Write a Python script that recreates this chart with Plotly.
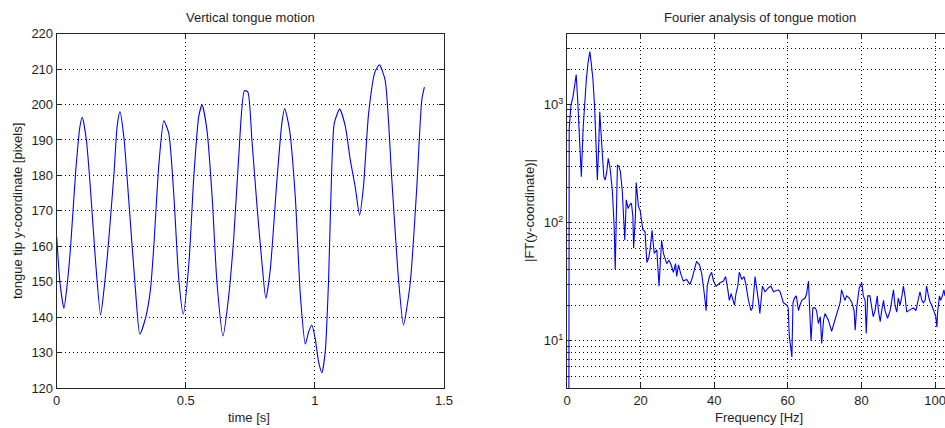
import plotly.graph_objects as go

# Vertical position of the tongue tip over time
time_s = [0.000, 0.013, 0.028, 0.041, 0.054, 0.073, 0.090, 0.099, 0.115, 0.131,
          0.151, 0.170, 0.183, 0.196, 0.222, 0.234, 0.245, 0.260, 0.280, 0.305,
          0.322, 0.344, 0.363, 0.376, 0.396, 0.415, 0.434, 0.454, 0.473, 0.490,
          0.512, 0.531, 0.550, 0.563, 0.582, 0.602, 0.621, 0.644, 0.666, 0.686,
          0.705, 0.727, 0.740, 0.756, 0.776, 0.795, 0.810, 0.827, 0.853, 0.872,
          0.883, 0.902, 0.924, 0.944, 0.963, 0.976, 0.988, 1.001, 1.014, 1.027,
          1.040, 1.053, 1.062, 1.075, 1.096, 1.118, 1.137, 1.156, 1.173, 1.188,
          1.208, 1.233, 1.250, 1.272, 1.298, 1.324, 1.343, 1.369, 1.394, 1.414,
          1.424]
tongue_y = [162.7, 149.5, 142.5, 149.5, 160.0, 180.6, 193.8, 196.4, 190.0, 175.9,
            155.2, 140.6, 147.7, 157.0, 180.6, 193.8, 198.0, 190.9, 172.1, 147.7,
            135.2, 139.7, 147.7, 159.9, 183.4, 195.4, 191.9, 174.0, 150.5, 140.8,
            155.2, 179.6, 196.6, 199.9, 192.8, 174.0, 149.5, 134.7, 145.8, 162.7,
            185.3, 203.9, 203.6, 190.0, 171.2, 155.2, 145.3, 153.3, 178.7, 194.7,
            198.9, 192.8, 174.0, 145.8, 132.4, 135.9, 137.8, 134.0, 127.5, 124.3,
            130.2, 150.5, 174.0, 194.7, 198.7, 193.8, 184.4, 176.8, 168.8, 176.8,
            197.5, 209.3, 211.2, 206.9, 178.7, 150.5, 137.8, 149.5, 175.9, 201.3,
            204.9]

# Magnitude spectrum of the same signal
freq_hz = [0.0, 0.6, 1.1, 1.6, 2.1, 2.5, 2.9, 3.3, 3.9, 4.35,
           4.8, 5.25, 5.7, 6.2, 6.6, 7.05, 7.5, 8.0, 8.25, 8.6,
           8.9, 9.3, 9.8, 10.0, 10.4, 10.8, 11.2, 11.7, 12.3, 12.8,
           13.1, 13.7, 14.1, 14.5, 15.0, 15.4, 15.7, 16.1, 16.6, 17.0,
           17.5, 17.9, 18.1, 18.6, 18.8, 19.4, 19.9, 20.6, 21.2, 21.7,
           22.2, 22.6, 23.1, 23.7, 24.4, 25.0, 25.7, 26.2, 27.1, 27.7,
           28.3, 28.9, 29.5, 29.8, 30.3, 30.9, 31.6, 32.5, 33.4, 33.9,
           34.6, 35.2, 36.0, 36.6, 37.3, 37.8, 38.1, 38.7, 39.3, 39.8,
           40.5, 41.6, 42.5, 43.1, 43.7, 44.1, 44.6, 45.5, 45.9, 46.4,
           46.8, 47.5, 48.1, 48.6, 49.3, 50.0, 50.4, 51.1, 52.0, 52.4,
           53.1, 53.8, 54.7, 55.4, 56.1, 57.4, 57.9, 58.8, 59.7, 60.1,
           60.4, 60.8, 61.1, 61.4, 61.8, 62.3, 62.9, 63.3, 63.8, 64.7,
           65.1, 65.6, 66.0, 66.3, 66.8, 67.4, 67.8, 68.3, 68.8, 69.2,
           69.7, 70.1, 71.0, 71.9, 72.4, 73.3, 74.2, 74.6, 75.1, 75.5,
           76.0, 76.7, 77.4, 78.0, 78.3, 78.7, 79.4, 80.1, 80.5, 81.0,
           81.3, 81.7, 82.3, 82.8, 83.2, 83.7, 84.3, 84.6, 85.1, 85.5,
           86.0, 86.4, 87.1, 87.8, 88.2, 88.7, 89.1, 89.6, 90.0, 90.5,
           91.0, 91.4, 91.9, 92.3, 92.8, 93.4, 94.1, 94.8, 95.5, 95.9,
           96.4, 96.8, 97.3, 97.7, 98.2, 98.6, 99.1, 99.7, 100.2, 100.5,
           100.7, 101.2, 101.5, 102.0, 102.4, 102.7, 103.2]
ft_mag = [1e-12, 630, 1000, 1150, 1470, 1790, 1100, 610, 245, 610,
          1030, 1620, 2240, 2810, 2240, 1620, 960, 363, 230, 440,
          870, 540, 340, 245, 230, 270, 350, 290, 190, 95,
          40, 308, 300, 270, 189, 87, 71, 156, 132, 141,
          146, 113, 61, 115, 219, 138, 126, 87, 84, 46,
          50, 60, 86, 55, 59, 29, 71, 55, 45, 48,
          44, 38, 45, 35, 44, 37, 32, 33, 30, 33,
          40, 47, 44, 37, 25, 18, 29, 35, 38, 32,
          29, 31, 32, 35, 27, 22, 25, 20, 25, 29,
          38, 33, 35, 30, 22, 18, 19, 35, 22, 17,
          29, 26, 28, 29, 26, 27, 26, 21, 20, 19,
          10.8, 8.3, 7.3, 21, 23, 24, 18, 20, 22, 23,
          25, 32, 19, 10, 19, 19, 18, 14, 16, 9.5,
          15, 17, 15, 12, 13.6, 17, 21, 27, 24, 22,
          24, 23, 21, 18, 12.3, 19, 28, 31, 24, 22,
          11.5, 24, 24, 18, 16, 18, 24, 18, 14.5, 18,
          22, 18, 15.5, 18, 22, 27, 20, 17.5, 23, 20,
          24, 29, 23, 17.5, 18, 18.5, 19, 18, 22, 26,
          22, 21, 22, 29, 24, 21.5, 20, 18, 16, 13,
          17.5, 24, 22, 24, 27, 24, 25]

left_ticks = [0, 0.5, 1, 1.5]
left_ticktext = ["0", "0.5", "1", "1.5"]
freq_ticks = [0, 20, 40, 60, 80, 100]
decade_vals = [10, 100, 1000]
decade_text = ["10<sup>1</sup>", "10<sup>2</sup>", "10<sup>3</sup>"]
minor_vals = [m * d for d in (1, 10, 100, 1000) for m in range(2, 10)]

W, H = 945, 428
FONT = "Liberation Sans, Arial, Helvetica, sans-serif"
INK = "#1e1e1e"


def fx(p):
    return p / W


def fy(p):
    return 1 - p / H


fig = go.Figure()
fig.add_trace(go.Scatter(x=time_s, y=tongue_y, mode="lines",
                         line=dict(color="#0000ff", width=1.1, shape="spline", smoothing=0.6),
                         xaxis="x", yaxis="y", hoverinfo="skip"))
fig.add_trace(go.Scatter(x=freq_hz, y=ft_mag, mode="lines",
                         line=dict(color="#0000ff", width=1.1),
                         xaxis="x2", yaxis="y2", hoverinfo="skip"))

axis_common = dict(showline=True, linecolor="#262626", linewidth=1,
                   ticks="inside", ticklen=5, tickwidth=1, tickcolor="#262626",
                   showgrid=True, gridcolor="#000000", griddash="1px,3px", gridwidth=1,
                   zeroline=False, automargin=False,
                   tickfont=dict(family=FONT, size=13, color=INK))

ydom = [fy(388), fy(33.7)]

fig.update_layout(
    width=W, height=H,
    margin=dict(l=0, r=0, t=0, b=0),
    paper_bgcolor="white", plot_bgcolor="white",
    showlegend=False,
    font=dict(family=FONT, size=13, color=INK),
    xaxis=dict(axis_common, domain=[fx(56.7), fx(444)], range=[0, 1.5],
               tickvals=left_ticks, ticktext=left_ticktext, mirror="ticks",
               anchor="y"),
    yaxis=dict(axis_common, domain=ydom, range=[120, 220], dtick=10,
               mirror="ticks", anchor="x"),
    xaxis2=dict(axis_common, domain=[fx(567), 1.0], range=[0, 102.7],
                tickvals=freq_ticks, mirror="ticks", anchor="y2",
                ticklabeloverflow="allow"),
    yaxis2=dict(axis_common, domain=ydom, type="log", range=[0.6, 3.6],
                tickvals=decade_vals, ticktext=decade_text, mirror=False,
                anchor="x2",
                minor=dict(tickvals=minor_vals, ticks="inside", ticklen=3,
                           tickcolor="#262626", showgrid=True,
                           gridcolor="#000000", griddash="1px,3px", gridwidth=1)),
)

annots = [
    dict(text="Vertical tongue motion", x=fx(250.3), y=fy(18)),
    dict(text="Fourier analysis of tongue motion", x=fx(759.5), y=fy(18)),
    dict(text="time [s]", x=fx(248.5), y=fy(417)),
    dict(text="Frequency [Hz]", x=fx(759), y=fy(417)),
    dict(text="tongue tip y-coordinate [pixels]", x=fx(17), y=fy(211), textangle=-90),
    dict(text="|FT(y-coordinate)|", x=fx(529), y=fy(211), textangle=-90),
]
for a in annots:
    fig.add_annotation(xref="paper", yref="paper", showarrow=False,
                       xanchor="center", yanchor="middle",
                       font=dict(family=FONT, size=13, color=INK), **a)

fig.write_html("out.html", config={"displayModeBar": False})
